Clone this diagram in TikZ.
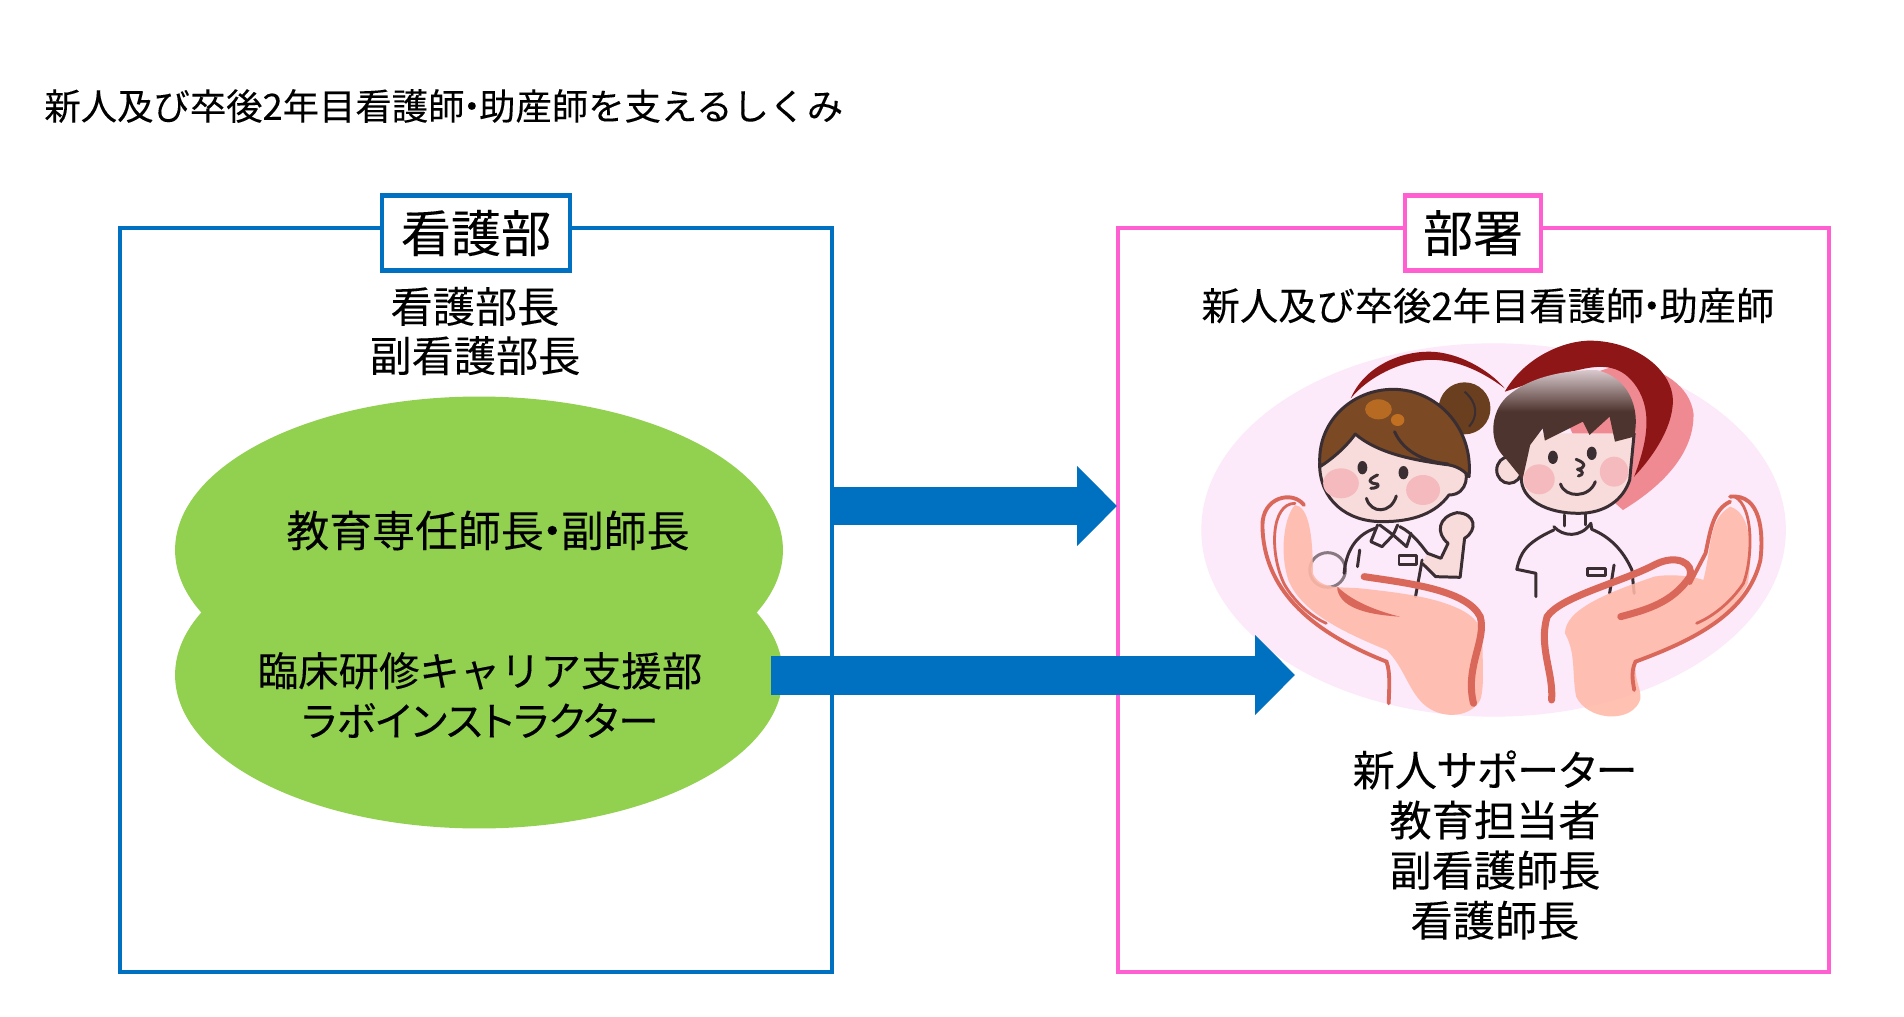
\documentclass[tikz,border=0pt]{standalone}
\usepackage{fontspec}
\setmainfont{Noto Sans CJK JP}[FakeBold=.12]
\usepackage{tikz}
\usetikzlibrary{shapes.geometric,arrows.meta}
\definecolor{kangoblue}{HTML}{0070C0}
\definecolor{bushopink}{HTML}{FF5FD0}
\definecolor{leafgreen}{HTML}{92D050}
\definecolor{blush}{HTML}{FCE9F9}
\definecolor{skin}{HTML}{F8DCDC}
\definecolor{cheek}{HTML}{F5BABD}
\definecolor{ink}{HTML}{3A2E33}
\definecolor{hairbrown}{HTML}{7B4A25}
\definecolor{hairdark}{HTML}{4E342E}
\definecolor{hairtop}{HTML}{D8C8CC}
\definecolor{heartred}{HTML}{8F1616}
\definecolor{heartpink}{HTML}{F08A92}
\definecolor{palm}{HTML}{FFB9A8}
\definecolor{palmline}{HTML}{D9685A}
\pgfdeclareverticalshading{hairfade}{100bp}{color(0bp)=(hairdark); color(56bp)=(hairdark); color(75bp)=(hairtop); color(100bp)=(hairtop)}
\newcommand{\nakaten}{\hbox to .4em{\hss ・\hss}}
\begin{document}
\begin{tikzpicture}[x=.02cm, y=-.02cm,
		frame/.style={draw, line width=2.5pt, fill=white, inner sep=0pt},
		blob/.style={ellipse, fill=leafgreen, inner sep=0pt, minimum width=12.16cm, minimum height=6.14cm},
		caption/.style={align=center, inner sep=0pt, font=\fontsize{24}{28}\selectfont},
		blockarrow/.style={line width=.78cm, draw=kangoblue, -{Triangle[length=.8cm, width=1.56cm]}},
		figline/.style={draw=ink, line width=1.7pt, line join=round, line cap=round},
		handline/.style={draw=palmline, line width=2.2pt, line cap=round, fill=none}]
	\useasboundingbox (0,0) rectangle (1904,1017);

	\node[anchor=west, inner sep=0pt, font=\fontsize{20.7}{24}\selectfont] (title) at (44,106) {新人及び卒後2年目看護師\nakaten 助産師を支えるしくみ};

	\node[frame, draw=kangoblue, minimum width=14.25cm, minimum height=14.88cm] (kangoframe) at (476,600) {};
	\node[frame, draw=bushopink, minimum width=14.22cm, minimum height=14.88cm] (bushoframe) at (1473.5,600) {};
	\node[frame, draw=kangoblue, minimum width=3.76cm, minimum height=1.5cm, font=\fontsize{28.5}{32}\selectfont] (kangolabel) at (476,233) {\raisebox{2pt}{看護部}};
	\node[frame, draw=bushopink, minimum width=2.72cm, minimum height=1.5cm, font=\fontsize{28.5}{32}\selectfont] (busholabel) at (1473,233) {\raisebox{2pt}{部署}};

	\node[caption] (heads) at (475,331) {看護部長\\副看護部長};
	\node[caption, font=\fontsize{21.8}{27}\selectfont] (staff) at (1488,305.5) {新人及び卒後2年目看護師\nakaten 助産師};

	\node[blob] (kyoiku) at (479,550) {};
	\node[blob] (rinsho) at (479,675) {};
	\node[caption, font=\fontsize{24.4}{28}\selectfont] (kyoikutext) at (488,530.5) {教育専任師長\nakaten 副師長};
	\node[caption, font=\fontsize{23}{28.5}\selectfont] (rinshotext) at (480,695) {臨床研修キャリア支援部\\\addfontfeature{RawFeature=+palt}ラボインストラクター};
	\node[caption, font=\fontsize{24}{28.5}\selectfont] (supporters) at (1495,845) {\addfontfeature{RawFeature=+palt}新人サポーター\\教育担当者\\副看護師長\\看護師長};

	\begin{scope}[shift={(1150,320)}, x=.00893cm, y=-.00667cm]
		\fill[blush] (770,630) ellipse (655 and 560);

		\fill[heartpink] (1060,570) .. controls (1170,480) and (1220,380) .. (1218,280) .. controls (1210,200) and (1150,140) .. (1060,130) -- (900,200) -- (1000,500) -- cycle;
		\fill[heartred] (795,215) .. controls (840,110) and (930,60) .. (990,62) .. controls (1090,65) and (1170,150) .. (1172,240) .. controls (1172,330) and (1120,420) .. (1085,470) .. controls (1110,380) and (1130,280) .. (1090,200) .. controls (1060,140) and (1020,130) .. (960,150) .. controls (890,170) and (830,200) .. (795,215) -- cycle;
		\fill[heartred] (450,235) .. controls (480,140) and (560,95) .. (625,95) .. controls (690,95) and (760,150) .. (795,205) .. controls (740,150) and (680,115) .. (620,120) .. controls (560,125) and (490,170) .. (450,235) -- cycle;

		\fill[hairbrown!85!black] (705,265) ellipse (58 and 78);
		\draw[ink, line width=1.2pt] (705,215) .. controls (735,250) and (735,290) .. (715,320);
		\filldraw[fill=skin, figline] (380,430) .. controls (380,540) and (440,605) .. (520,605) .. controls (590,605) and (640,580) .. (670,525) .. controls (715,525) and (715,450) .. (700,440) -- (600,300) -- (450,300) -- cycle;
		\filldraw[fill=hairbrown, figline] (381,440) .. controls (372,310) and (450,208) .. (545,208) .. controls (640,208) and (725,320) .. (715,470) .. controls (700,445) and (680,435) .. (660,433) .. controls (590,420) and (510,400) .. (460,342) .. controls (440,380) and (410,415) .. (381,440) -- cycle;
		\draw[figline] (548,335) .. controls (570,400) and (620,425) .. (668,432);
		\fill[orange!50!brown, opacity=.6] (512,268) ellipse (30 and 30);
		\fill[orange!50!brown, opacity=.7] (555,300) ellipse (15 and 18);
		\fill[cheek] (428,490) ellipse (40 and 45);
		\fill[cheek] (612,510) ellipse (38 and 45);
		\fill[ink] (476,443) ellipse (11 and 20);
		\fill[ink] (568,458) ellipse (11 and 20);
		\draw[figline] (510,465) .. controls (485,480) and (490,490) .. (510,492) .. controls (515,500) and (505,505) .. (495,505);
		\draw[figline] (485,535) .. controls (495,582) and (540,582) .. (552,528);

		\draw[figline] (505,625) .. controls (470,640) and (440,680) .. (435,760);
		\draw[figline] (560,620) .. controls (590,640) and (610,680) .. (622,700);
		\draw[figline] (610,720) -- (595,830);
		\filldraw[fill=skin, figline] (622,700) -- (652,715) -- (668,670) .. controls (640,640) and (645,590) .. (688,578) .. controls (730,580) and (735,630) .. (705,655) -- (695,772) -- (640,770) -- (610,730);
		\draw[figline] (510,615) -- (495,665) -- (520,680) -- (545,645) -- (575,680) -- (585,640);
		\draw[figline] (515,615) -- (545,645) -- (555,615);
		\draw[figline] (558,708) rectangle (598,735);
		\draw[figline] (470,690) -- (465,740);
		\draw[figline, opacity=.6] (398,750) ellipse (40 and 52);

		\filldraw[fill=skin, figline] (805,450) ellipse (28 and 40);
		\fill[skin] (832,470) .. controls (830,540) and (890,580) .. (960,580) .. controls (1020,580) and (1060,540) .. (1075,480) -- (1085,340) -- (850,340) -- cycle;
		\draw[figline] (832,470) .. controls (830,540) and (890,580) .. (960,580) .. controls (1020,580) and (1060,540) .. (1075,480) -- (1085,340);
		\shade[shading=hairfade] (835,478) -- (795,412) .. controls (760,370) and (760,280) .. (800,230) .. controls (850,170) and (930,150) .. (1000,150) .. controls (1070,170) and (1100,260) .. (1085,350) -- (1042,365) -- (1030,290) -- (985,345) -- (970,305) -- (885,362) -- (880,325) -- (852,375) -- cycle;
		\fill[cheek] (872,478) ellipse (35 and 45);
		\fill[cheek] (1040,455) ellipse (32 and 45);
		\fill[ink] (903,412) ellipse (11 and 20);
		\fill[ink] (990,400) ellipse (11 and 20);
		\draw[figline] (955,418) .. controls (980,430) and (975,445) .. (958,448) .. controls (975,455) and (970,465) .. (960,468);
		\draw[figline] (920,492) .. controls (930,535) and (985,535) .. (998,485);

		\draw[figline] (930,585) -- (930,618);
		\draw[figline] (975,582) -- (975,615);
		\draw[figline] (905,620) .. controls (925,650) and (965,655) .. (988,610) -- (990,628) .. controls (1030,650) and (1060,690) .. (1080,750) -- (1085,820);
		\draw[figline] (905,630) .. controls (840,670) and (830,700) .. (822,748) -- (865,760) -- (865,830);
		\draw[figline] (980,745) rectangle (1020,768);
		\draw[figline] (1040,735) -- (1030,820);

		\begin{scope}[opacity=.88]
			\fill[palm] (325,555) .. controls (355,560) and (365,640) .. (365,760) .. controls (380,810) and (430,800) .. (470,805) .. controls (540,815) and (600,825) .. (650,845) .. controls (710,870) and (745,900) .. (745,960) .. controls (745,1030) and (750,1100) .. (740,1140) .. controls (720,1190) and (660,1200) .. (620,1160) .. controls (580,1120) and (570,1040) .. (530,990) .. controls (440,940) and (340,880) .. (310,780) .. controls (290,700) and (300,590) .. (325,555) -- cycle;
			\fill[palm] (1240,780) .. controls (1260,680) and (1250,600) .. (1300,560) .. controls (1350,580) and (1350,700) .. (1340,790) .. controls (1300,900) and (1200,980) .. (1090,1020) .. controls (1080,1080) and (1110,1120) .. (1095,1150) .. controls (1070,1210) and (980,1200) .. (955,1130) .. controls (945,1060) and (955,1000) .. (930,940) .. controls (930,870) and (1020,820) .. (1130,770) .. controls (1170,760) and (1220,770) .. (1240,780) -- cycle;
		\end{scope}
		\draw[handline] (345,555) .. controls (320,510) and (250,530) .. (252,620) .. controls (255,800) and (350,930) .. (530,1025) .. controls (540,1060) and (535,1120) .. (535,1150);
		\draw[handline, line width=1.6pt] (325,550) .. controls (270,550) and (268,700) .. (300,790) .. controls (320,840) and (360,890) .. (395,910);
		\draw[handline, line width=4pt] (480,770) .. controls (580,790) and (710,810) .. (740,890) .. controls (755,960) and (705,1040) .. (725,1150);
		\fill[palmline] (420,800) .. controls (450,840) and (500,870) .. (560,890) .. controls (500,885) and (430,870) .. (420,810) -- cycle;

		\draw[handline] (1300,530) .. controls (1370,520) and (1375,640) .. (1368,720) .. controls (1340,880) and (1220,960) .. (1088,1025) .. controls (1075,1060) and (1085,1100) .. (1085,1110);
		\draw[handline, line width=1.6pt] (1310,530) .. controls (1355,560) and (1350,720) .. (1330,790) .. controls (1300,850) and (1260,890) .. (1225,910);
		\draw[handline] (1300,545) .. controls (1260,570) and (1255,640) .. (1245,700) -- (1210,790);
		\draw[handline, line width=4pt] (900,1140) .. controls (905,1060) and (870,980) .. (890,890) .. controls (920,830) and (1050,790) .. (1130,735) .. controls (1180,700) and (1220,730) .. (1210,770) .. controls (1170,850) and (1110,870) .. (1055,890);
	\end{scope}

	\coordinate (tipone) at (1117,506);
	\coordinate (starttwo) at (771,675);
	\coordinate (tiptwo) at (1295,675);
	\draw[blockarrow] (kangoframe.east |- tipone) -- (tipone);
	\draw[blockarrow] (starttwo) -- (tiptwo);
\end{tikzpicture}
\end{document}
